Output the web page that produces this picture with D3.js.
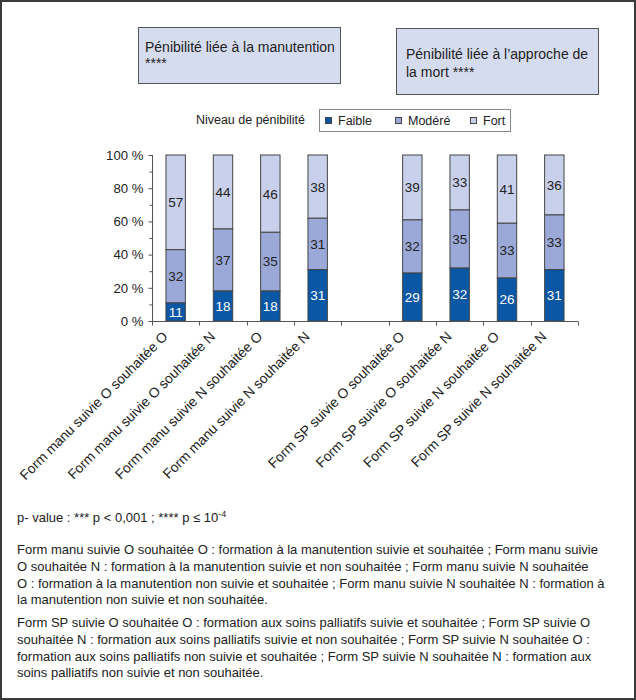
<!DOCTYPE html>
<html><head><meta charset="utf-8">
<script src="https://cdn.jsdelivr.net/npm/d3@7"></script>
<style>body{margin:0;background:#fff}svg{display:block;font-family:"Liberation Sans",Arial,sans-serif}</style>
</head><body><svg id="c" width="636" height="700"></svg>
<script>
const categories = ["Form manu suivie O souhaitée O","Form manu suivie O souhaitée N","Form manu suivie N souhaitée O","Form manu suivie N souhaitée N","",
  "Form SP suivie O souhaitée O","Form SP suivie O souhaitée N","Form SP suivie N souhaitée O","Form SP suivie N souhaitée N"];
const seriesNames = ["Faible","Modéré","Fort"];
const faible = [11,18,18,31,null,29,32,26,31];
const modere = [32,37,35,31,null,32,35,33,33];
const fort   = [57,44,46,38,null,39,33,41,36];
const yTicks = [0,0.2,0.4,0.6,0.8,1];
const yTickLabels = ["0 %","20 %","40 %","60 %","80 %","100 %"];
const colors = ["#0a57a5","#9aa9d8","#c8d0ec"];
const labelColors = ["#fff","#222","#222"];

const svg = d3.select("#c");
const font = 13.5;
// outer frame
svg.append("rect").attr("x",1).attr("y",1).attr("width",634).attr("height",698)
  .attr("fill","none").attr("stroke","#3a3a3a").attr("stroke-width",2);

// header boxes
svg.append("rect").attr("x",138.5).attr("y",27.5).attr("width",202).attr("height",56)
  .attr("fill","#d6dcef").attr("stroke","#555");
svg.append("text").attr("x",145).attr("y",52).attr("font-size",14).attr("fill","#222").text("Pénibilité liée à la manutention");
svg.append("text").attr("x",145).attr("y",68).attr("font-size",14).attr("fill","#222").text("****");
svg.append("rect").attr("x",396.5).attr("y",28.5).attr("width",202).attr("height",66)
  .attr("fill","#d6dcef").attr("stroke","#555");
svg.append("text").attr("x",406).attr("y",59).attr("font-size",14).attr("fill","#222").text("Pénibilité liée à l’approche de");
svg.append("text").attr("x",406).attr("y",77).attr("font-size",14).attr("fill","#222").text("la mort ****");

// legend
svg.append("text").attr("x",305).attr("y",124).attr("text-anchor","end").attr("font-size",12.5).attr("fill","#222").text("Niveau de pénibilité");
svg.append("rect").attr("x",319.5).attr("y",109.5).attr("width",191).attr("height",22)
  .attr("fill","#fff").attr("stroke","#888");
const legX = [325,395,470];
seriesNames.forEach((n,i)=>{
  svg.append("rect").attr("x",legX[i]+0.5).attr("y",117.5).attr("width",6).attr("height",6)
    .attr("fill",colors[i]).attr("stroke","#444");
  svg.append("text").attr("x",legX[i]+13).attr("y",124.5).attr("font-size",12.5).attr("fill","#222").text(n);
});

// scales
const x = d3.scaleBand().domain(d3.range(categories.length)).range([152,578]).paddingInner(0).paddingOuter(0);
const y = d3.scaleLinear().domain([0,1]).range([321,155]);
const barW = x.bandwidth()*0.41;

const rows = categories.map((c,i)=>({i, Faible:faible[i]||0, "Modéré":modere[i]||0, Fort:fort[i]||0, empty: faible[i]==null}));
const stack = d3.stack().keys(seriesNames).offset(d3.stackOffsetExpand);
const stacked = stack(rows.filter(r=>!r.empty));

const g = svg.append("g");
stacked.forEach((layer,k)=>{
  layer.forEach(d=>{
    const cx = x(d.data.i)+x.bandwidth()/2;
    g.append("rect").attr("x",cx-barW/2).attr("width",barW)
      .attr("y",y(d[1])).attr("height",y(d[0])-y(d[1]))
      .attr("fill",colors[k]).attr("stroke","#444").attr("stroke-width",1);
  });
});
stacked.forEach((layer,k)=>{
  layer.forEach(d=>{
    const cx = x(d.data.i)+x.bandwidth()/2;
    g.append("text").attr("x",cx).attr("y",(y(d[0])+y(d[1]))/2+5)
      .attr("text-anchor","middle").attr("font-size",font).attr("fill",labelColors[k])
      .text(d.data[seriesNames[k]]);
  });
});

// y axis
const yAxis = d3.axisLeft(y).tickValues(yTicks).tickFormat((d,i)=>yTickLabels[i]).tickSize(4).tickPadding(5);
const ya = svg.append("g").attr("transform","translate(152.5,0)").call(yAxis);
ya.select(".domain").attr("stroke","#555").attr("d","M0,155V321.5");
ya.selectAll(".tick line").attr("stroke","#555");
ya.selectAll(".tick text").attr("font-size",13.2).attr("fill","#222").attr("font-family","Liberation Sans,Arial,sans-serif");
const yMinor = d3.axisLeft(y).tickValues(d3.range(0.1,1,0.2)).tickFormat("").tickSize(3);
const ym = svg.append("g").attr("transform","translate(152.5,0)").call(yMinor);
ym.select(".domain").remove();
ym.selectAll(".tick line").attr("stroke","#555");

// x axis
const xa = svg.append("g").attr("transform","translate(0,321.5)");
xa.append("line").attr("x1",152).attr("x2",578).attr("stroke","#555");
const bounds = d3.range(categories.length+1).map(i=> i<categories.length ? x(i) : x(i-1)+x.bandwidth());
xa.selectAll("line.t").data(bounds).enter().append("line").attr("class","t")
  .attr("x1",d=>Math.round(d)+0.5).attr("x2",d=>Math.round(d)+0.5).attr("y1",0).attr("y2",4).attr("stroke","#555");
xa.selectAll("text").data(categories).enter().append("text")
  .attr("transform",(d,i)=>`translate(${x(i)+x.bandwidth()/2-7},${16}) rotate(-45)`)
  .attr("text-anchor","end").attr("font-size",13.8).attr("fill","#222").text(d=>d);

// footer
const fs = 13;
const ft = svg.append("text").attr("x",17).attr("y",522).attr("font-size",fs).attr("fill","#222");
ft.append("tspan").text("p- value : *** p < 0,001 ; **** p ≤ 10");
ft.append("tspan").attr("dy",-5).attr("font-size",9).text("-4");
const para1 = ["Form manu suivie O souhaitée O : formation à la manutention suivie et souhaitée ; Form manu suivie",
"O souhaitée N : formation à la manutention suivie et non souhaitée ; Form manu suivie N souhaitée",
"O : formation à la manutention non suivie et souhaitée ; Form manu suivie N souhaitée N : formation à",
"la manutention non suivie et non souhaitée."];
const para2 = ["Form SP suivie O souhaitée O : formation aux soins palliatifs suivie et souhaitée ; Form SP suivie O",
"souhaitée N : formation aux soins palliatifs suivie et non souhaitée ; Form SP suivie N souhaitée O :",
"formation aux soins palliatifs non suivie et souhaitée ; Form SP suivie N souhaitée N : formation aux",
"soins palliatifs non suivie et non souhaitée."];
para1.forEach((t,i)=>svg.append("text").attr("x",17).attr("y",554+i*16.8).attr("font-size",fs).attr("fill","#222").text(t));
para2.forEach((t,i)=>svg.append("text").attr("x",17).attr("y",627+i*16.8).attr("font-size",fs).attr("fill","#222").text(t));
</script></body></html>
